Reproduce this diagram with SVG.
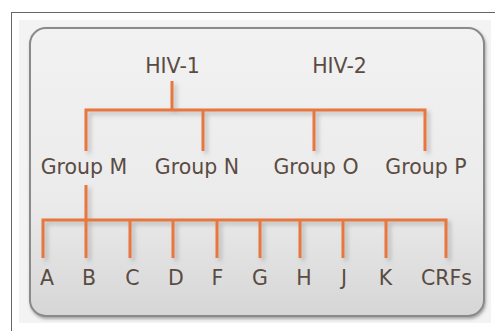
<svg xmlns="http://www.w3.org/2000/svg" width="495" height="331" viewBox="0 0 495 331">
  <defs>
    <linearGradient id="panelFill" x1="0" y1="0" x2="0" y2="1">
      <stop offset="0" stop-color="#f2f2f2"/>
      <stop offset="0.6" stop-color="#ebebeb"/>
      <stop offset="1" stop-color="#d6d6d6"/>
    </linearGradient>
    <filter id="lineShadow" x="-20%" y="-20%" width="140%" height="160%">
      <feDropShadow dx="3" dy="3" stdDeviation="2" flood-color="#777" flood-opacity="0.45"/>
    </filter>
    <filter id="panelShadow" x="-5%" y="-5%" width="110%" height="115%">
      <feDropShadow dx="1" dy="2" stdDeviation="1.5" flood-color="#555" flood-opacity="0.5"/>
    </filter>
    <style>
      .lbl { font-family: "DejaVu Sans", Verdana, sans-serif; font-size: 20.5px; fill: #5b4b43; }
      .edge { stroke: #e8773c; stroke-width: 3; fill: none; stroke-linecap: butt; }
    </style>
  </defs>

  <!-- page frame -->
  <rect x="0" y="0" width="495" height="331" fill="#ffffff"/>
  <rect x="11.5" y="12.5" width="500" height="340" fill="none" stroke="#666" stroke-width="1"/>
  <rect x="19" y="20" width="472" height="303" fill="#f3f3f3"/>

  <!-- rounded panel -->
  <rect x="30" y="28" width="454" height="288" rx="16" ry="16" fill="url(#panelFill)" stroke="#8a8a8a" stroke-width="2" filter="url(#panelShadow)"/>

  <!-- connectors -->
  <g id="connectors" class="edge" filter="url(#lineShadow)">
    <path class="edge" d="M172 81 V110"/>
    <path class="edge" d="M86 151 V110 H425 V151"/>
    <path class="edge" d="M203 110 V151"/>
    <path class="edge" d="M314 110 V151"/>
    <path class="edge" d="M86 185 V258"/>
    <path class="edge" d="M43 258 V220 H446 V258"/>
    <path class="edge" d="M130 220 V258"/>
    <path class="edge" d="M173 220 V258"/>
    <path class="edge" d="M217 220 V258"/>
    <path class="edge" d="M260 220 V258"/>
    <path class="edge" d="M300 220 V258"/>
    <path class="edge" d="M343 220 V258"/>
    <path class="edge" d="M386 220 V258"/>
  </g>

  <!-- top level -->
  <g id="hiv1"><text class="lbl" x="172.5" y="73" text-anchor="middle">HIV-1</text></g>
  <g id="hiv2"><text class="lbl" x="339.5" y="73" text-anchor="middle">HIV-2</text></g>

  <!-- groups -->
  <g id="groupM"><text class="lbl" x="84" y="174" text-anchor="middle">Group M</text></g>
  <g id="groupN"><text class="lbl" x="197" y="174" text-anchor="middle">Group N</text></g>
  <g id="groupO"><text class="lbl" x="316" y="174" text-anchor="middle">Group O</text></g>
  <g id="groupP"><text class="lbl" x="426" y="174" text-anchor="middle">Group P</text></g>

  <!-- subtypes -->
  <g id="subA"><text class="lbl" x="47" y="285" text-anchor="middle">A</text></g>
  <g id="subB"><text class="lbl" x="89" y="285" text-anchor="middle">B</text></g>
  <g id="subC"><text class="lbl" x="132.5" y="285" text-anchor="middle">C</text></g>
  <g id="subD"><text class="lbl" x="176" y="285" text-anchor="middle">D</text></g>
  <g id="subF"><text class="lbl" x="217.5" y="285" text-anchor="middle">F</text></g>
  <g id="subG"><text class="lbl" x="260" y="285" text-anchor="middle">G</text></g>
  <g id="subH"><text class="lbl" x="304" y="285" text-anchor="middle">H</text></g>
  <g id="subJ"><text class="lbl" x="344" y="285" text-anchor="middle">J</text></g>
  <g id="subK"><text class="lbl" x="385.5" y="285" text-anchor="middle">K</text></g>
  <g id="subCRFs"><text class="lbl" x="446.5" y="285" text-anchor="middle">CRFs</text></g>
</svg>
